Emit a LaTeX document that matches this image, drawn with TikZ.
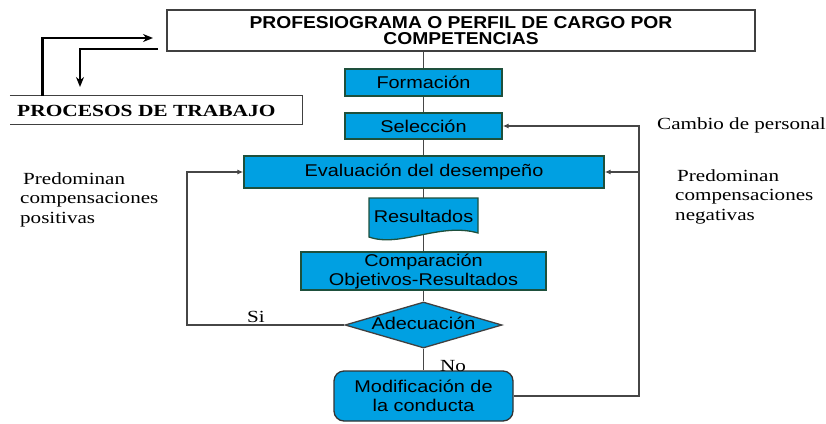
\documentclass[tikz,border=0pt]{standalone}
\usepackage{fontspec}
\setmainfont{Liberation Serif}
\newfontfamily\sansf{Liberation Sans}[FakeStretch=1.17]
\newfontfamily\hdrf{Liberation Sans}[FakeStretch=1.12]
\newfontfamily\serf{Liberation Serif}[FakeStretch=1.24]
\newfontfamily\serbf{Liberation Serif}[FakeStretch=1.26]
\usetikzlibrary{shapes.geometric,arrows.meta}
\definecolor{boxblue}{RGB}{0,160,226}
\definecolor{boxedge}{RGB}{30,80,60}
\definecolor{linegray}{RGB}{70,70,70}
\begin{document}
\begin{tikzpicture}[x=1pt,y=-1pt,
 bluebox/.style={draw=boxedge, line width=1.3pt, fill=boxblue, inner sep=0pt,
   font=\sansf\fontsize{17}{19}\selectfont, align=center, text=black},
 conn/.style={draw=linegray, line width=1.3pt},
 arr/.style={conn, -{Latex[length=6pt,width=5pt]}},
 thickarr/.style={line width=2.8pt, -{Stealth[length=10pt,width=8pt]}},
 lbl/.style={font=\serf\fontsize{17}{19.5}\selectfont, inner sep=0pt, align=left}
]
\useasboundingbox (0,0) rectangle (826,423);
% top box
\node[draw=black!75, line width=1.3pt, fill=white, minimum width=588pt, minimum height=41pt,
  inner sep=0pt, align=center, font=\hdrf\bfseries\fontsize{17.2}{16}\selectfont]
  (top) at (461,30.5) {PROFESIOGRAMA O PERFIL DE CARGO POR\\COMPETENCIAS};
% procesos
\node[minimum width=292pt, minimum height=28pt, inner sep=0pt] (proc) at (156,110) {};
\draw[black!75, line width=1.3pt] (proc.north west) -- (proc.north east) -- (proc.south east) -- (proc.south west);
\node[anchor=base west, inner sep=0pt, font=\serbf\bfseries\fontsize{17}{19}\selectfont] (proct) at (17,116) {PROCESOS DE TRABAJO};
% column
\node[bluebox, minimum width=157pt, minimum height=27pt] (form) at (423.5,82.5) {Formación};
\node[bluebox, minimum width=157pt, minimum height=26pt] (sel) at (423.5,126) {Selección};
\node[bluebox, minimum width=360pt, minimum height=32pt] (eval) at (424,172) {Evaluación del desempeño};
\fill[boxblue] (369,198) -- (478,198) -- (478,233) .. controls (440,222) and (400,248) .. (369,237) -- cycle;
\draw[boxedge, line width=1.3pt] (369,198) -- (478,198) -- (478,233) .. controls (440,222) and (400,248) .. (369,237) -- cycle;
\node[minimum width=109pt, minimum height=37pt, inner sep=0pt, font=\sansf\fontsize{17}{19}\selectfont] (res) at (423.5,216.5) {Resultados};
\node[bluebox, minimum width=245pt, minimum height=38pt] (comp) at (423.5,271) {Comparación\\Objetivos-Resultados};
\node[diamond, draw=black!75, line width=1.3pt, fill=boxblue, minimum width=157pt, minimum height=46pt,
  aspect=3.41, inner sep=0pt] (ad) at (423.5,325) {};
\node[font=\sansf\fontsize{17}{19}\selectfont, inner sep=0pt] (adt) at (423.5,323) {Adecuación};
\node[bluebox, draw=black!80, rounded corners=10pt, minimum width=179pt, minimum height=50pt] (mod) at (423.5,396) {Modificación de\\la conducta};
% connectors
\draw[conn] (top.south -| form.north) -- (form.north);
\draw[conn] (form.south) -- (sel.north);
\draw[conn] (sel.south) -- (sel.south |- eval.north);
\draw[conn] (eval.south -| res.north) -- (res.north);
\draw[conn] (res.south) -- (res.south |- comp.north);
\draw[conn] (comp.south) -- (ad.north);
\draw[conn] (ad.south) -- (mod.north);
\coordinate (lp) at (187,325);
\draw[arr] (ad.west) -- (lp) |- (eval.west);
\coordinate (rp) at (639,396);
\draw[arr] (mod.east) -- (rp) |- (sel.east);
\draw[arr] (rp |- eval.east) -- (eval.east);
% thick arrows
\coordinate (t1) at (153,38);
\draw[thickarr] ([xshift=33pt]proc.north west) |- (t1);
\coordinate (t2) at (158,49);
\coordinate (t3) at (80,87);
\draw[thickarr] (t2) -| (t3);
% labels
\node[lbl, anchor=base west] (cp) at (657,129) {Cambio de personal};
\node[lbl, anchor=north west] (pp) at (20,172.4) {\hspace{3pt}Predominan\\compensaciones\\positivas};
\node[lbl, anchor=north west] (pn) at (675,169.4) {\hspace{2pt}Predominan\\compensaciones\\negativas};
\node[lbl, anchor=base west] (si) at (247,322) {Si};
\node[lbl, anchor=base west] (no) at (440,371) {No};
\end{tikzpicture}
\end{document}
